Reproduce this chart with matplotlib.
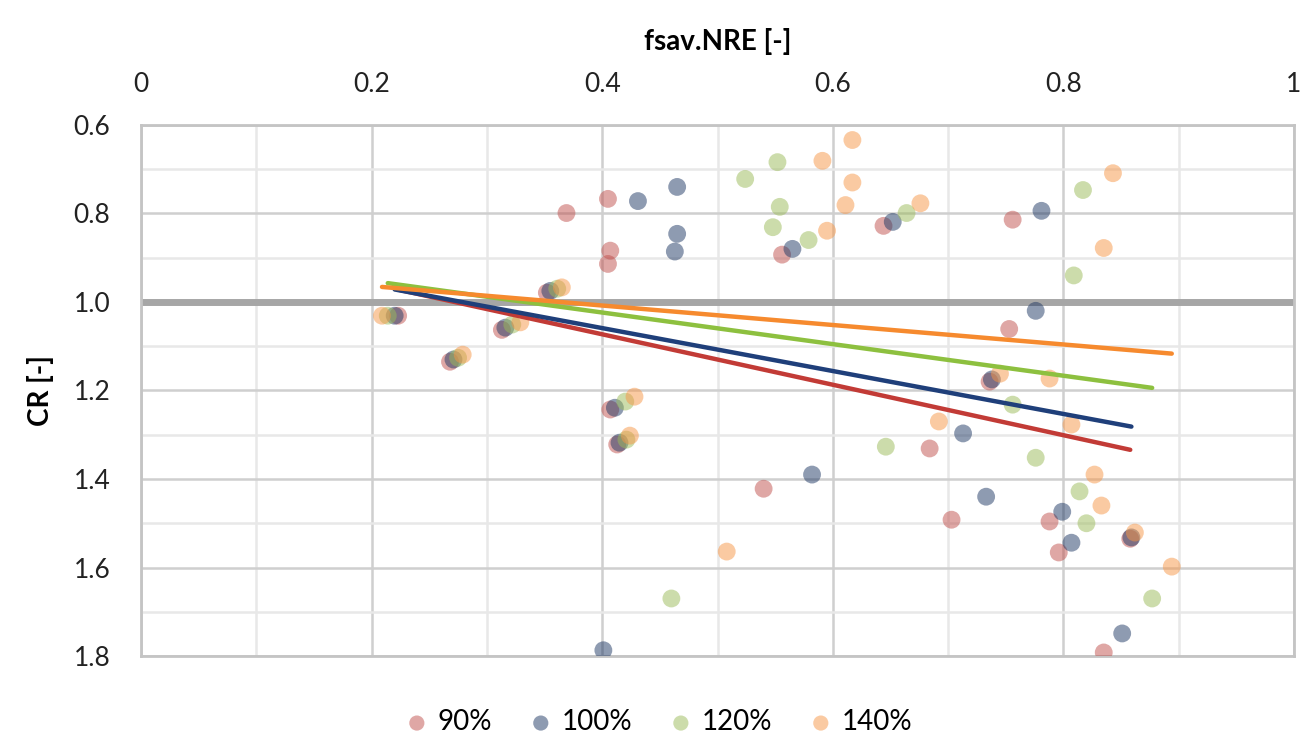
import numpy as np
import matplotlib
matplotlib.use('Agg')
import matplotlib.pyplot as plt
from matplotlib.ticker import MultipleLocator

plt.rcParams['font.family'] = ['Lato', 'DejaVu Sans']

labels = ['90%', '100%', '120%', '140%']

x_90 = [0.223, 0.268, 0.313, 0.352, 0.369, 0.405, 0.407, 0.405, 0.407, 0.413, 0.540,
        0.556, 0.644, 0.684, 0.703, 0.736, 0.753, 0.756, 0.788, 0.796, 0.835, 0.858]
y_90 = [1.031, 1.135, 1.063, 0.979, 0.799, 0.767, 0.884, 0.914, 1.243, 1.322, 1.422,
        0.893, 0.828, 1.331, 1.492, 1.180, 1.061, 0.814, 1.496, 1.566, 1.792, 1.535]

x_100 = [0.220, 0.271, 0.316, 0.355, 0.401, 0.411, 0.415, 0.431, 0.465, 0.465, 0.463, 0.565,
         0.582, 0.652, 0.713, 0.733, 0.738, 0.776, 0.781, 0.799, 0.807, 0.851, 0.859]
y_100 = [1.031, 1.130, 1.058, 0.975, 1.787, 1.239, 1.318, 0.772, 0.740, 0.846, 0.886, 0.880,
         1.390, 0.819, 1.297, 1.440, 1.175, 1.020, 0.794, 1.474, 1.544, 1.749, 1.532]

x_120 = [0.214, 0.275, 0.322, 0.361, 0.420, 0.421, 0.460, 0.524, 0.552, 0.554, 0.548, 0.579,
         0.646, 0.664, 0.756, 0.776, 0.809, 0.814, 0.817, 0.820, 0.877]
y_120 = [1.031, 1.126, 1.051, 0.970, 1.225, 1.311, 1.670, 0.722, 0.684, 0.785, 0.831, 0.860,
         1.327, 0.799, 1.232, 1.352, 0.940, 1.428, 0.747, 1.500, 1.670]

x_140 = [0.209, 0.279, 0.329, 0.365, 0.428, 0.424, 0.508, 0.591, 0.595, 0.611, 0.617, 0.617,
         0.676, 0.692, 0.745, 0.788, 0.807, 0.827, 0.833, 0.835, 0.843, 0.862, 0.894]
y_140 = [1.031, 1.119, 1.046, 0.967, 1.214, 1.302, 1.564, 0.681, 0.839, 0.781, 0.634, 0.730,
         0.777, 1.270, 1.162, 1.173, 1.277, 1.390, 1.460, 0.878, 0.709, 1.521, 1.598]

# linear trendline coefficients (CR = slope * x + intercept) per series
trend_slope = [0.570, 0.485, 0.357, 0.220]
trend_intercept = [0.845, 0.865, 0.881, 0.920]

xs = [x_90, x_100, x_120, x_140]
ys = [y_90, y_100, y_120, y_140]

point_colors = ['#C0504D', '#1F3864', '#9BBB59', '#F79646']
line_colors = ['#C23B36', '#1F3F7A', '#8DC03F', '#F68A2E']

fig = plt.figure(figsize=(13.01, 7.47), dpi=100)
ax = fig.add_axes([0.1084, 0.1218, 0.8862, 0.7109])

ax.set_xlim(0, 1)
ax.set_ylim(1.8, 0.6)

ax.xaxis.set_major_locator(MultipleLocator(0.2))
ax.xaxis.set_minor_locator(MultipleLocator(0.1))
ax.yaxis.set_major_locator(MultipleLocator(0.2))
ax.yaxis.set_minor_locator(MultipleLocator(0.1))
ax.grid(which='major', color='#CFCFCF', lw=1.8, zorder=0)
ax.grid(which='minor', color='#E8E8E8', lw=1.8, zorder=0)
ax.set_axisbelow(True)

ax.xaxis.tick_top()
ax.xaxis.set_label_position('top')
ax.tick_params(which='both', length=0, labelsize=19, colors='#222222')
ax.tick_params(axis='x', pad=20)
ax.tick_params(axis='y', pad=22)
ax.set_xticks([0, 0.2, 0.4, 0.6, 0.8, 1.0])
ax.set_xticklabels(['0', '0.2', '0.4', '0.6', '0.8', '1'])
ax.set_yticks([0.6, 0.8, 1.0, 1.2, 1.4, 1.6, 1.8])
ax.set_yticklabels(['0.6', '0.8', '1.0', '1.2', '1.4', '1.6', '1.8'])

for side in ax.spines.values():
    side.set_color('#C4C4C4')
    side.set_linewidth(2)

ax.axhline(1.0, color='#A6A6A6', lw=5, zorder=1)

for x, y, pc, lab in zip(xs, ys, point_colors, labels):
    ax.scatter(x, y, s=165, color=pc, alpha=0.5, edgecolors='none', zorder=3, label=lab)

# trendline drawn across the x range of its own series
for x, k, b, lc in zip(xs, trend_slope, trend_intercept, line_colors):
    xx = np.array([min(x), max(x)])
    ax.plot(xx, k * xx + b, color=lc, lw=3.2, zorder=4, solid_capstyle='round')

ax.set_xlabel('fsav.NRE [-]', fontsize=20, fontweight='bold', labelpad=16)
ax.set_ylabel('CR [-]', fontsize=20, fontweight='bold', labelpad=14)

fig.legend(loc='center', bbox_to_anchor=(0.506, 0.033), ncol=4, frameon=False,
           fontsize=20, handlelength=0.9, handletextpad=0.3, columnspacing=1.3,
           markerscale=0.85)

fig.savefig('out.png', dpi=100)
